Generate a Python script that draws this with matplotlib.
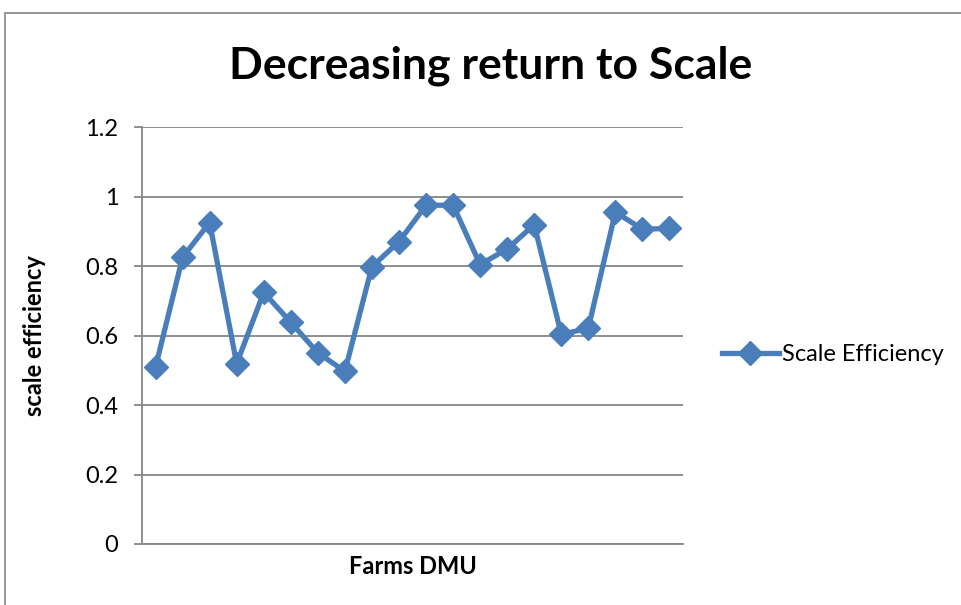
import matplotlib.pyplot as plt
from matplotlib.patches import Rectangle

# values
farms = list(range(1, 21))
scale_eff = [0.509, 0.825, 0.925, 0.519, 0.724, 0.638, 0.550, 0.497, 0.798, 0.870,
             0.975, 0.975, 0.804, 0.849, 0.919, 0.603, 0.621, 0.955, 0.906, 0.908]
y_ticks = [0, 0.2, 0.4, 0.6, 0.8, 1.0, 1.2]
y_tick_labels = ['0', '0.2', '0.4', '0.6', '0.8', '1', '1.2']

plt.rcParams['font.family'] = ['Lato', 'DejaVu Sans']

fig = plt.figure(figsize=(9.61, 6.05), dpi=100)
W, H = 961, 605

# outer chart frame (runs off the right and bottom edge)
fig.patches.append(Rectangle((5 / W, -0.1), 1.2, (H - 13) / H + 0.1,
                             transform=fig.transFigure, fill=False,
                             edgecolor='#8c8c8c', linewidth=1.3))

ax = fig.add_axes([142 / W, (H - 544) / H, (683 - 142) / W, (544 - 127) / H])

line_color = '#4a7ebb'
ax.plot(range(len(farms)), scale_eff, color=line_color, linewidth=3.8,
        marker='D', markersize=12, label='Scale Efficiency')

ax.set_xlim(-0.5, len(farms) - 0.5)
ax.set_ylim(0, 1.2)
ax.set_yticks(y_ticks)
ax.set_yticklabels(y_tick_labels)
ax.set_xticks([])

grid_color = '#868686'
ax.grid(axis='y', color=grid_color, linewidth=1.3)
ax.set_axisbelow(True)
for side in ['top', 'right']:
    ax.spines[side].set_visible(False)
for side in ['left', 'bottom']:
    ax.spines[side].set_color(grid_color)
    ax.spines[side].set_linewidth(1.3)
ax.tick_params(axis='y', length=6, width=1.3, color=grid_color, pad=11, labelsize=17)

ax.set_xlabel('Farms DMU', fontsize=17, fontweight='bold', va='center')
ax.xaxis.set_label_coords(0.5, (544 - 566) / 417)
ax.set_ylabel('scale efficiency', fontsize=17, fontweight='bold', va='center')
ax.yaxis.set_label_coords((35 - 142) / 541, 0.5)

fig.text(491 / W, 1 - 66 / H, 'Decreasing return to Scale', fontsize=32,
         fontweight='bold', ha='center', va='center')

ax.legend(loc='center left', bbox_to_anchor=(1.033, 0.455), frameon=False,
          fontsize=17, handlelength=2.4, handletextpad=0.15)

fig.savefig('out.png', dpi=100)
